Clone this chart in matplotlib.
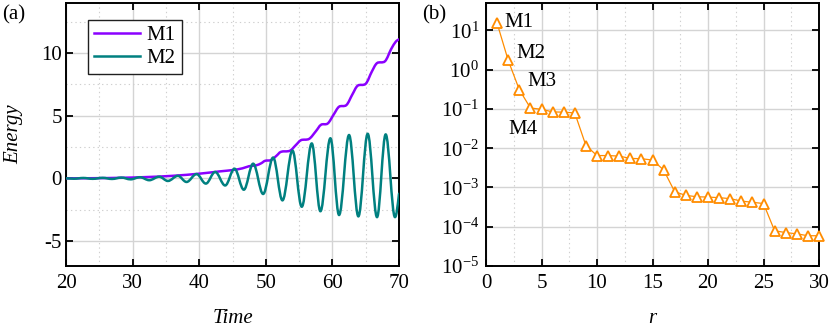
import math
import matplotlib
matplotlib.use("Agg")
import matplotlib.pyplot as plt
from matplotlib.path import Path
from matplotlib.patches import PathPatch
from matplotlib.lines import Line2D
from matplotlib.ticker import MultipleLocator, FixedLocator, FuncFormatter, NullLocator

# ---------------- data ----------------
m1_time = [20, 24, 28, 32, 36, 40, 43, 45, 46.5, 47.5, 48.5, 49.3, 49.9, 50.8,
           51.6, 52.3, 53.6, 54.5, 55.3, 56.5, 57.5, 58.3, 59.3, 60.2, 61.0,
           62.1, 63.0, 63.8, 65.0, 65.9, 66.7, 67.9, 68.8, 69.5, 70.0]
m1_energy = [0.0, 0.01, 0.04, 0.1, 0.2, 0.37, 0.55, 0.66, 0.8, 0.97, 1.03, 1.2,
             1.4, 1.46, 1.8, 2.12, 2.2, 2.65, 3.05, 3.15, 3.75, 4.28, 4.38,
             5.1, 5.72, 5.85, 6.7, 7.4, 7.55, 8.5, 9.2, 9.35, 10.3, 10.9, 11.1]

# Panel (a): M2 energy, successive extrema (peaks / troughs),
# last entry is the value at the right edge
m2_time = [20.0, 21.2, 22.6, 24.0, 25.5, 26.9, 28.3, 29.7, 31.1, 32.5, 34.0,
           35.3, 36.8, 38.1, 39.6, 41.0, 42.4, 43.9, 45.3, 46.7, 48.1, 49.6,
           51.1, 52.5, 54.0, 55.4, 56.9, 58.2, 59.7, 61.0, 62.5, 63.9, 65.3,
           66.7, 68.0, 69.4, 70.0]
m2_energy = [0.0, -0.03, 0.03, -0.04, 0.04, -0.05, 0.06, -0.08, 0.09, -0.15,
             0.13, -0.21, 0.2, -0.29, 0.34, -0.42, 0.51, -0.57, 0.77, -0.91,
             1.17, -1.25, 1.66, -1.76, 2.22, -2.27, 2.79, -2.63, 3.2, -2.93,
             3.46, -3.04, 3.56, -3.1, 3.51, -3.1, -1.23]

series_names = ["M1", "M2"]

# Panel (b): spectrum vs r
r_values = list(range(1, 31))
spectrum = [15.3, 1.73, 0.31, 0.106, 0.098, 0.084, 0.083, 0.079, 0.0117, 0.0065,
            0.0065, 0.0063, 0.0055, 0.0054, 0.0050, 0.0028, 0.00078, 0.00063,
            0.00058, 0.00057, 0.00055, 0.00052, 0.00045, 0.00042, 0.00039,
            7.9e-5, 7.1e-5, 6.6e-5, 5.9e-5, 5.9e-5]
mode_labels = ["M1", "M2", "M3", "M4"]
mode_label_pos = [(1.7, 16), (2.7, 2.6), (3.7, 0.5), (2.0, 0.030)]

# ---------------- style ----------------
plt.rcParams["font.family"] = ["Liberation Serif", "DejaVu Serif"]
plt.rcParams["mathtext.fontset"] = "custom"
plt.rcParams["mathtext.rm"] = "Liberation Serif"
plt.rcParams["mathtext.it"] = "Liberation Serif:italic"
plt.rcParams["axes.unicode_minus"] = False

FS = 15
C_M1 = "#8B00FF"
C_M2 = "#008080"
C_OR = "#FF8C00"
GRID_MAJ = "#d4d4d4"
GRID_MIN = "#cfcfcf"

fig = plt.figure(figsize=(8.3, 3.27), dpi=100)
axA = fig.add_axes([66 / 830, 61 / 327, 333 / 830, 263 / 327])
axB = fig.add_axes([486 / 830, 61 / 327, 333 / 830, 263 / 327])


def style_axes(ax, ypad):
    for s in ax.spines.values():
        s.set_linewidth(1.4)
        s.set_color("black")
    ax.tick_params(which="major", direction="in", top=True, right=True,
                   length=5, width=1.3, labelsize=FS)
    ax.tick_params(axis="x", which="major", pad=6)
    ax.tick_params(axis="y", which="major", pad=ypad)
    ax.tick_params(which="minor", length=0)
    ax.grid(True, which="major", color=GRID_MAJ, lw=1.0, ls="-")
    ax.set_axisbelow(True)


def extrema_path(ts, vs):
    """Cubic Bezier path through successive extrema (horizontal tangents)."""
    K = 0.363
    verts = [(ts[0], vs[0])]
    codes = [Path.MOVETO]
    n = len(ts)
    for i in range(n - 1):
        t0, v0, t1, v1 = ts[i], vs[i], ts[i + 1], vs[i + 1]
        dt = t1 - t0
        c1 = (t0 + K * dt, v0)
        if i == n - 2:
            c2 = (t1 - dt / 3, v1 - (v1 - v0) * 0.5)
        else:
            c2 = (t1 - K * dt, v1)
        verts += [c1, c2, (t1, v1)]
        codes += [Path.CURVE4] * 3
    return Path(verts, codes)


def smooth_path(ts, vs):
    """Catmull-Rom spline through the points as cubic Bezier segments."""
    pts = list(zip(ts, vs))
    verts = [pts[0]]
    codes = [Path.MOVETO]
    n = len(pts)
    for i in range(n - 1):
        p0 = pts[i - 1] if i > 0 else pts[i]
        p1 = pts[i]
        p2 = pts[i + 1]
        p3 = pts[i + 2] if i + 2 < n else pts[i + 1]
        c1 = (p1[0] + (p2[0] - p0[0]) / 6, p1[1] + (p2[1] - p0[1]) / 6)
        c2 = (p2[0] - (p3[0] - p1[0]) / 6, p2[1] - (p3[1] - p1[1]) / 6)
        verts += [c1, c2, p2]
        codes += [Path.CURVE4] * 3
    return Path(verts, codes)


# ---------------- panel (a) ----------------
style_axes(axA, 3)
axA.set_xlim(20, 70)
axA.set_ylim(-7, 14)
axA.xaxis.set_major_locator(MultipleLocator(10))
axA.yaxis.set_major_locator(FixedLocator([-5, 0, 5, 10]))
axA.xaxis.set_minor_locator(MultipleLocator(5))
axA.yaxis.set_minor_locator(FixedLocator([-2.5, 2.5, 7.5, 12.5]))
axA.grid(True, which="minor", color=GRID_MIN, lw=0.8, ls=(0, (1.2, 2.8)))

pA1 = PathPatch(smooth_path(m1_time, m1_energy), fill=False, edgecolor=C_M1,
                lw=1.8, capstyle="round", joinstyle="round", zorder=3)
pA2 = PathPatch(extrema_path(m2_time, m2_energy), fill=False, edgecolor=C_M2,
                lw=1.8, capstyle="round", joinstyle="round", zorder=3)
axA.add_patch(pA1)
axA.add_patch(pA2)
pA1.set_clip_path(axA.patch)
pA2.set_clip_path(axA.patch)

handles = [Line2D([], [], color=C_M1, lw=1.8), Line2D([], [], color=C_M2, lw=1.8)]
leg = axA.legend(handles, series_names, loc="upper left",
                 bbox_to_anchor=(0.066, 0.937), fontsize=FS, frameon=True,
                 fancybox=False, framealpha=1, edgecolor="#202020",
                 handlelength=2.2, handletextpad=0.3, borderpad=0.3,
                 labelspacing=0.15, borderaxespad=0)
leg.get_frame().set_linewidth(1.0)

axA.set_xlabel("Time", fontsize=FS, style="italic", labelpad=11)
axA.set_ylabel("Energy", fontsize=FS, style="italic", labelpad=13)
fig.text(2 / 830, 1 - 15 / 327, "(a)", fontsize=FS, va="center", ha="left")

# ---------------- panel (b) ----------------
style_axes(axB, 5)
axB.set_yscale("log")
axB.set_xlim(0, 30)
axB.set_ylim(1e-5, 50)
axB.xaxis.set_major_locator(MultipleLocator(5))
axB.xaxis.set_minor_locator(MultipleLocator(2.5))
axB.yaxis.set_major_locator(FixedLocator([1e-5, 1e-4, 1e-3, 1e-2, 1e-1, 1e0, 1e1]))
axB.yaxis.set_minor_locator(NullLocator())
axB.yaxis.set_major_formatter(FuncFormatter(
    lambda v, p: r"$\mathregular{10^{%d}}$" % round(math.log10(v))))
axB.grid(True, which="minor", axis="x", color=GRID_MIN, lw=0.8, ls=(0, (1.2, 2.8)))

axB.plot(r_values, spectrum, color=C_OR, lw=0.9, marker="^", ms=7.5,
         mfc="white", mec=C_OR, mew=1.3, zorder=3, clip_on=False)
for lab, (x, y) in zip(mode_labels, mode_label_pos):
    axB.text(x, y, lab, fontsize=FS, ha="left", va="center", zorder=4)

axB.set_xlabel("r", fontsize=FS, style="italic", labelpad=11)
fig.text(422 / 830, 1 - 15 / 327, "(b)", fontsize=FS, va="center", ha="left")

fig.savefig("out.png", dpi=100)
